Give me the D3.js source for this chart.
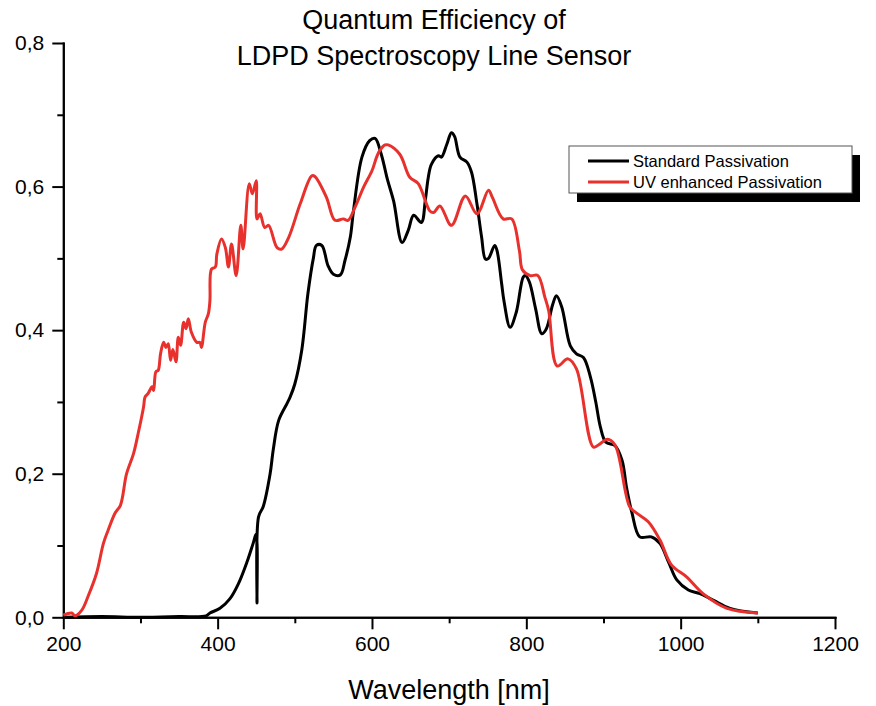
<!DOCTYPE html>
<html>
<head>
<meta charset="utf-8">
<script src="https://cdn.jsdelivr.net/npm/d3@7"></script>
<style>
  body { margin: 0; background: #fff; }
  svg { font-family: "Liberation Sans", Arial, sans-serif; }
  .axis path, .axis line { stroke: #000; stroke-width: 2px; }
  .axis text { font-size: 21px; fill: #000; }
</style>
</head>
<body>
<div id="chart"></div>
<script>
// wavelength [nm], quantum efficiency
var stdWl = [200,250,300,350,385,390,403,416,427,438,446,450,451,453,459,468,472,479,490,494,500,509,517,524,528,535,543,550,559,565,572,576,587,597,604,612,620,628,639,647,654,664,669,673,677,686,690,697,703,707,714,723,729,736,742,747,751,759,762,768,771,779,787,796,799,804,812,820,826,834,839,846,857,865,874,883,890,896,903,915,924,930,937,947,962,973,985,995,1010,1025,1042,1064,1100];
var stdQe = [0,0.001,0,0.001,0.002,0.006,0.0125,0.026,0.047,0.077,0.103,0.116,0.02,0.14,0.154,0.2,0.233,0.274,0.298,0.307,0.325,0.372,0.451,0.5,0.518,0.518,0.49,0.478,0.477,0.497,0.53,0.566,0.641,0.664,0.667,0.645,0.61,0.58,0.522,0.539,0.56,0.55,0.58,0.613,0.631,0.643,0.641,0.659,0.675,0.67,0.641,0.634,0.62,0.576,0.53,0.499,0.5,0.518,0.511,0.465,0.441,0.404,0.425,0.474,0.476,0.467,0.43,0.395,0.402,0.435,0.448,0.432,0.378,0.367,0.362,0.335,0.3,0.265,0.244,0.239,0.219,0.18,0.145,0.112,0.112,0.103,0.075,0.052,0.038,0.033,0.024,0.0125,0.006];

var uvWl = [200,211,215,224,232,243,252,258,267,274,282,291,297,304,306,310,315,317,320,323,326,330,333,336,339,342,346,349,352,356,359,362,366,373,377,379,384,388,390,392,397,399,405,410,414,418,424,430,433,441,445,450,451,455,461,466,477,483,492,507,522,526,541,552,563,569,578,589,600,606,610,617,621,636,649,660,675,680,688,703,721,736,751,756,770,781,791,795,805,815,824,829,840,854,865,887,896,905,915,934,943,958,973,988,1008,1029,1060,1100];
var uvQe = [0.003,0.006,0.002,0.01,0.029,0.061,0.103,0.121,0.145,0.156,0.2,0.228,0.256,0.293,0.307,0.312,0.321,0.316,0.342,0.344,0.367,0.383,0.376,0.381,0.358,0.373,0.356,0.39,0.379,0.411,0.402,0.416,0.397,0.383,0.383,0.376,0.411,0.423,0.441,0.485,0.488,0.506,0.527,0.515,0.488,0.52,0.476,0.546,0.513,0.604,0.59,0.608,0.555,0.562,0.543,0.546,0.515,0.513,0.529,0.576,0.615,0.614,0.585,0.553,0.555,0.553,0.571,0.599,0.622,0.641,0.65,0.658,0.658,0.645,0.613,0.604,0.566,0.564,0.573,0.546,0.587,0.562,0.595,0.585,0.555,0.555,0.511,0.484,0.476,0.476,0.446,0.427,0.35,0.36,0.346,0.237,0.242,0.248,0.24,0.154,0.145,0.133,0.108,0.073,0.056,0.033,0.0125,0.006];

var seriesNames = ['Standard Passivation', 'UV enhanced Passivation'];
var seriesColors = ['#000000', '#e8312d'];
var titleLines = ['Quantum Efficiency of', 'LDPD Spectroscopy Line Sensor'];
var xLabel = 'Wavelength [nm]';
var xMajor = [200, 400, 600, 800, 1000, 1200];
var xMinor = [300, 500, 700, 900, 1100];
var yMajor = [0, 0.2, 0.4, 0.6, 0.8];
var yMinor = [0.1, 0.3, 0.5, 0.7];

var W = 876, H = 706;
var plotL = 63.3, plotR = 835, plotT = 43, plotB = 617.3;

var svg = d3.select('#chart').append('svg')
  .attr('width', W)
  .attr('height', H);

var x = d3.scaleLinear().domain([200, 1200]).range([plotL, plotR]);
var y = d3.scaleLinear().domain([0, 0.8]).range([plotB, plotT]);

var fmt = function(d) { return d3.format('.1f')(d).replace('.', ','); };

// minor ticks first, then the major axes on top
svg.append('g').attr('class', 'axis')
  .attr('transform', 'translate(0,' + plotB + ')')
  .call(d3.axisBottom(x).tickValues(xMinor).tickSize(6).tickSizeOuter(0).tickFormat(''));
svg.append('g').attr('class', 'axis')
  .attr('transform', 'translate(' + plotL + ',0)')
  .call(d3.axisLeft(y).tickValues(yMinor).tickSize(6).tickSizeOuter(0).tickFormat(''));

svg.append('g').attr('class', 'axis x-axis')
  .attr('transform', 'translate(0,' + plotB + ')')
  .call(d3.axisBottom(x).tickValues(xMajor).tickSize(12).tickSizeOuter(0).tickPadding(7).tickFormat(d3.format('d')));
svg.append('g').attr('class', 'axis y-axis')
  .attr('transform', 'translate(' + plotL + ',0)')
  .call(d3.axisLeft(y).tickValues(yMajor).tickSize(11).tickSizeOuter(0).tickPadding(8).tickFormat(fmt));

svg.selectAll('.axis path.domain').attr('stroke-linecap', 'square');

// curves (smoothed through the read points)
var line = d3.line()
  .curve(d3.curveCatmullRom.alpha(0.5))
  .x(function(d) { return x(d[0]); })
  .y(function(d) { return y(d[1]); });

var series = [
  d3.zip(stdWl, stdQe),
  d3.zip(uvWl, uvQe)
];

// red drawn on top of black like the original
series.forEach(function(s, i) {
  svg.append('path')
    .datum(s)
    .attr('fill', 'none')
    .attr('stroke', seriesColors[i])
    .attr('stroke-width', 3)
    .attr('stroke-linejoin', 'round')
    .attr('d', line);
});

// title
svg.append('g').selectAll('text')
  .data(titleLines)
  .enter().append('text')
  .attr('x', 434)
  .attr('y', function(d, i) { return 29 + i * 36; })
  .attr('text-anchor', 'middle')
  .style('font-size', '27px')
  .text(function(d) { return d; });

svg.append('text')
  .attr('x', 449)
  .attr('y', 699)
  .attr('text-anchor', 'middle')
  .style('font-size', '27px')
  .text(xLabel);

// legend with drop shadow
var lg = svg.append('g').attr('transform', 'translate(569,146)');
lg.append('rect').attr('x', 8).attr('y', 9).attr('width', 283).attr('height', 47).attr('fill', '#000');
lg.append('rect').attr('width', 283).attr('height', 47).attr('fill', '#fff').attr('stroke', '#555').attr('stroke-width', 1);
seriesNames.forEach(function(name, i) {
  var yy = 15 + i * 21;
  lg.append('line')
    .attr('x1', 19).attr('x2', 60)
    .attr('y1', yy).attr('y2', yy)
    .attr('stroke', seriesColors[i])
    .attr('stroke-width', 3);
  lg.append('text')
    .attr('x', 64)
    .attr('y', yy + 5.5)
    .style('font-size', '16.5px')
    .text(name);
});
</script>
</body>
</html>
